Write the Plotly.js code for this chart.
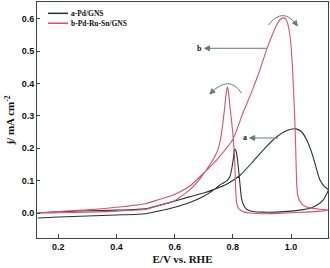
<!DOCTYPE html>
<html>
<head>
<meta charset="utf-8">
<script src="https://cdn.plot.ly/plotly-3.0.1.min.js"></script>
<style>html,body{margin:0;padding:0;background:#fff;}#chart{width:330px;height:268px;}</style>
</head>
<body>
<div id="chart"></div>
<script>
// Series names
var seriesNames = ["a-Pd/GNS", "b-Pd-Ru-Sn/GNS"];

// a-Pd/GNS : forward scan then reverse scan (E / V vs RHE, j / mA cm^-2)
var aForwardE = [0.13,0.2,0.3,0.4,0.5,0.584,0.65,0.7,0.738,0.78,0.824,0.87,0.916,0.95,0.978,1.0,1.017,1.035,1.054,1.07,1.082,1.099,1.115,1.128];
var aForwardJ = [0.0,0.004,0.007,0.009,0.013,0.033,0.05,0.062,0.074,0.09,0.116,0.16,0.206,0.235,0.252,0.259,0.26,0.252,0.226,0.19,0.154,0.103,0.082,0.072];
var aReverseE = [1.12,1.111,1.09,1.065,1.03,1.0,0.95,0.9,0.87,0.855,0.845,0.837,0.83,0.826,0.822,0.818,0.814,0.81,0.806,0.802,0.797,0.79,0.78,0.765,0.756,0.738,0.7,0.65,0.6,0.55,0.5,0.4,0.3,0.2,0.13];
var aReverseJ = [0.055,0.041,0.025,0.015,0.009,0.006,0.003,0.003,0.005,0.008,0.014,0.025,0.045,0.075,0.113,0.15,0.178,0.194,0.198,0.17,0.14,0.113,0.1,0.092,0.087,0.074,0.052,0.032,0.018,0.007,-0.002,-0.006,-0.009,-0.012,-0.015];

// b-Pd-Ru-Sn/GNS : forward scan then reverse scan
var bForwardE = [0.13,0.2,0.3,0.4,0.5,0.54,0.595,0.65,0.705,0.75,0.8,0.835,0.865,0.893,0.916,0.939,0.956,0.966,0.975,0.983,0.99,0.996,1.001,1.006,1.01,1.013,1.016,1.018,1.02,1.025,1.035,1.05,1.065,1.1,1.128];
var bForwardJ = [0.0,0.005,0.01,0.018,0.029,0.04,0.056,0.082,0.128,0.17,0.228,0.31,0.375,0.442,0.505,0.558,0.59,0.6,0.603,0.598,0.58,0.55,0.505,0.43,0.35,0.29,0.2,0.13,0.08,0.048,0.03,0.02,0.016,0.012,0.01];
var bReverseE = [1.1,1.05,1.0,0.95,0.9,0.86,0.84,0.828,0.82,0.815,0.812,0.81,0.808,0.806,0.803,0.8,0.795,0.79,0.786,0.783,0.781,0.778,0.774,0.77,0.767,0.76,0.75,0.74,0.727,0.715,0.705,0.68,0.65,0.62,0.595,0.54,0.5,0.4,0.3,0.2,0.13];
var bReverseJ = [0.006,0.003,0.001,-0.001,-0.002,0.0,0.003,0.008,0.014,0.025,0.04,0.07,0.12,0.17,0.21,0.245,0.29,0.33,0.365,0.385,0.389,0.375,0.345,0.31,0.288,0.24,0.2,0.178,0.158,0.141,0.128,0.098,0.07,0.05,0.036,0.022,0.012,0.006,0.003,0.001,0.0];

// Axis ticks
var xTicks = [0.2, 0.4, 0.6, 0.8, 1.0];
var xTickText = ["0.2", "0.4", "0.6", "0.8", "1.0"];
var yTicks = [0.0, 0.1, 0.2, 0.3, 0.4, 0.5, 0.6];
var yTickText = ["0.0", "0.1", "0.2", "0.3", "0.4", "0.5", "0.6"];

var colorA = "#27332f";
var colorB = "#d4546f";
var arrowColor = "#5f7f76";
var frameColor = "#3a4845";
var serif = "Liberation Serif, Times New Roman, serif";
var sans = "Liberation Sans, Arial, sans-serif";

var traces = [
  {x: aForwardE.concat(aReverseE), y: aForwardJ.concat(aReverseJ), name: seriesNames[0], type: "scatter", mode: "lines",
   line: {color: colorA, width: 1.1, shape: "spline", smoothing: 0.6}, showlegend: false, hoverinfo: "skip"},
  {x: bForwardE.concat(bReverseE), y: bForwardJ.concat(bReverseJ), name: seriesNames[1], type: "scatter", mode: "lines",
   line: {color: colorB, width: 1.1, shape: "spline", smoothing: 0.6}, showlegend: false, hoverinfo: "skip"}
];

function arrowShape(path, filled) {
  return {type: "path", xref: "x", yref: "y", path: path,
          line: {color: arrowColor, width: 1}, fillcolor: filled ? arrowColor : "rgba(0,0,0,0)"};
}

var layout = {
  width: 330, height: 268,
  margin: {l: 37, r: 2, t: 2, b: 30},
  paper_bgcolor: "#fff", plot_bgcolor: "#fff",
  showlegend: false,
  xaxis: {
    range: [0.127, 1.127], tickvals: xTicks, ticktext: xTickText,
    ticks: "inside", ticklen: 4, tickwidth: 1, tickcolor: frameColor,
    showline: true, linecolor: frameColor, linewidth: 1, mirror: true,
    showgrid: false, zeroline: false,
    tickfont: {family: sans, size: 9, color: "#111", weight: "bold"},
    title: {text: "E/V vs. RHE", font: {family: serif, size: 11, color: "#111", weight: "bold"}, standoff: 4}
  },
  yaxis: {
    range: [-0.077, 0.652], tickvals: yTicks, ticktext: yTickText,
    ticks: "inside", ticklen: 3, tickwidth: 1, tickcolor: frameColor,
    showline: true, linecolor: frameColor, linewidth: 1, mirror: true,
    showgrid: false, zeroline: false,
    tickfont: {family: sans, size: 9, color: "#111", weight: "bold"},
    title: {text: "j/ mA cm<sup>-2</sup>", font: {family: serif, size: 11, color: "#111", weight: "bold"}, standoff: 4}
  },
  shapes: [
    // curved arrows around peaks
    arrowShape("M 0.721,0.368 Q 0.788,0.43 0.83,0.37", false),
    arrowShape("M 0.922,0.581 Q 0.9745,0.6405 1.021,0.578", false),
    arrowShape("M 0.7214,0.3678 L 0.7393,0.374 L 0.7276,0.3839 Z", true),
    arrowShape("M 1.0214,0.5779 L 1.0183,0.5947 L 1.0053,0.5868 Z", true),
    // straight arrows to labels
    arrowShape("M 0.916,0.509 L 0.716,0.509", false),
    arrowShape("M 0.703,0.509 L 0.720,0.5165 L 0.720,0.5015 Z", true),
    arrowShape("M 0.956,0.232 L 0.871,0.232", false),
    arrowShape("M 0.858,0.232 L 0.875,0.2395 L 0.875,0.2245 Z", true),
    // legend samples
    {type: "line", xref: "paper", yref: "paper", x0: 0.038, x1: 0.1065, y0: 0.952, y1: 0.952, line: {color: colorA, width: 1.5}},
    {type: "line", xref: "paper", yref: "paper", x0: 0.038, x1: 0.1065, y0: 0.91, y1: 0.91, line: {color: colorB, width: 1.5}}
  ],
  annotations: [
    {xref: "paper", yref: "paper", x: 0.11, y: 0.952, xanchor: "left", yanchor: "middle", text: seriesNames[0], showarrow: false,
     font: {family: serif, size: 7.5, color: "#111", weight: "bold"}},
    {xref: "paper", yref: "paper", x: 0.11, y: 0.91, xanchor: "left", yanchor: "middle", text: seriesNames[1], showarrow: false,
     font: {family: serif, size: 7.5, color: "#111", weight: "bold"}},
    // labels
    {xref: "x", yref: "y", x: 0.686, y: 0.509, text: "b", showarrow: false, font: {family: serif, size: 8, color: "#111", weight: "bold"}},
    {xref: "x", yref: "y", x: 0.842, y: 0.232, text: "a", showarrow: false, font: {family: serif, size: 8, color: "#111", weight: "bold"}}
  ]
};

Plotly.newPlot("chart", traces, layout, {staticPlot: true, displayModeBar: false});
</script>
</body>
</html>
